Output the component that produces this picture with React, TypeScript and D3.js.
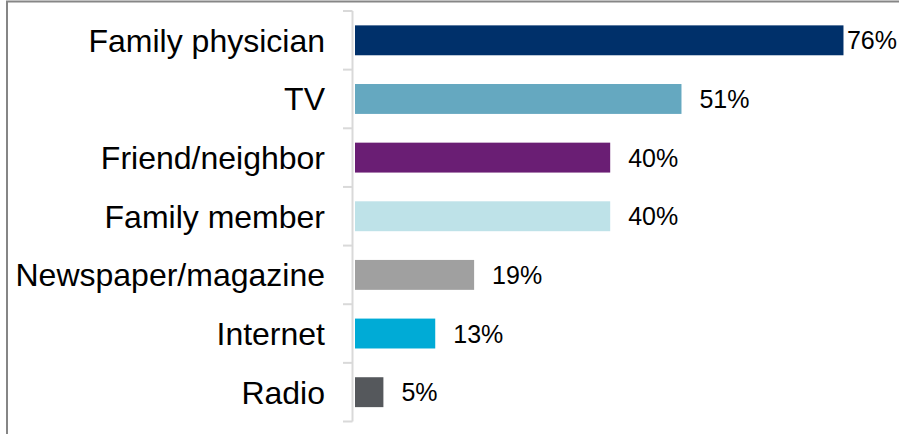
import * as d3 from "d3"
import React from "react"

const categories = ["Family physician", "TV", "Friend/neighbor", "Family member", "Newspaper/magazine", "Internet", "Radio"]
const values = [76, 51, 40, 40, 19, 13, 5]
const colors = ["#00306a", "#65a8c0", "#6a1e74", "#bee2e8", "#a0a0a0", "#00abd6", "#55585c"]

const width = 899
const height = 434

const drawChart = () => {
  document.body.style.margin = "0"

  const svg = d3.select("#hbar")
    .attr("width", width)
    .attr("height", height)
    .attr("viewBox", [0, 0, width, height])
    .style("display", "block")
    .style("font-family", "'Liberation Sans', Arial, sans-serif")

  svg.selectAll("*").remove()

  // frame (only top and left edges show)
  svg.append("line").attr("x1", 6).attr("x2", width).attr("y1", 1.5).attr("y2", 1.5)
    .attr("stroke", "#868686").attr("stroke-width", 2)
  svg.append("line").attr("x1", 7).attr("x2", 7).attr("y1", 1).attr("y2", height)
    .attr("stroke", "#868686").attr("stroke-width", 2)

  const x = d3.scaleLinear().domain([0, 100]).range([351, 999])
  const y = d3.scaleBand().domain(categories).range([11, 421.5])
    .paddingInner(0.49).paddingOuter(0.245)

  const axisX = 352.5
  const step = y.step()

  // category axis with ticks between bands
  const axis = svg.append("g").attr("stroke", "#d9d9d9").attr("stroke-width", 2)
  axis.append("line").attr("x1", axisX).attr("x2", axisX)
    .attr("y1", y.range()[0]).attr("y2", y.range()[1])
  axis.selectAll("line.tick")
    .data(d3.range(categories.length + 1))
    .join("line")
    .attr("class", "tick")
    .attr("x1", 343).attr("x2", axisX)
    .attr("y1", (i: number) => y.range()[0] + i * step)
    .attr("y2", (i: number) => y.range()[0] + i * step)

  // bars
  svg.append("g").selectAll("rect")
    .data(categories)
    .join("rect")
    .attr("x", 355)
    .attr("y", (d: string) => y(d)!)
    .attr("width", (d: string, i: number) => x(values[i]) - 355)
    .attr("height", y.bandwidth())
    .attr("fill", (d: string, i: number) => colors[i])

  // category labels
  svg.append("g").selectAll("text")
    .data(categories)
    .join("text")
    .attr("x", 325)
    .attr("y", (d: string) => y(d)! + y.bandwidth() / 2)
    .attr("dy", "0.36em")
    .attr("text-anchor", "end")
    .attr("font-size", 32)
    .attr("fill", "#000")
    .text((d: string) => d)

  // value labels, kept inside the right edge
  svg.append("g").selectAll("text")
    .data(categories)
    .join("text")
    .attr("x", (d: string, i: number) => x(values[i]) + 18)
    .attr("y", (d: string) => y(d)! + y.bandwidth() / 2)
    .attr("dy", "0.36em")
    .attr("font-size", 25)
    .attr("fill", "#000")
    .text((d: string, i: number) => `${values[i]}%`)
    .each(function (this: SVGTextElement, d: string, i: number) {
      const w = this.getComputedTextLength()
      const start = x(values[i]) + 18
      if (start + w > width - 2) d3.select(this).attr("x", width - 2 - w)
    })
}

const App = () => {
  React.useEffect(() => {
    drawChart()
  }, [])

  return <svg id="hbar" />
}

export default App
